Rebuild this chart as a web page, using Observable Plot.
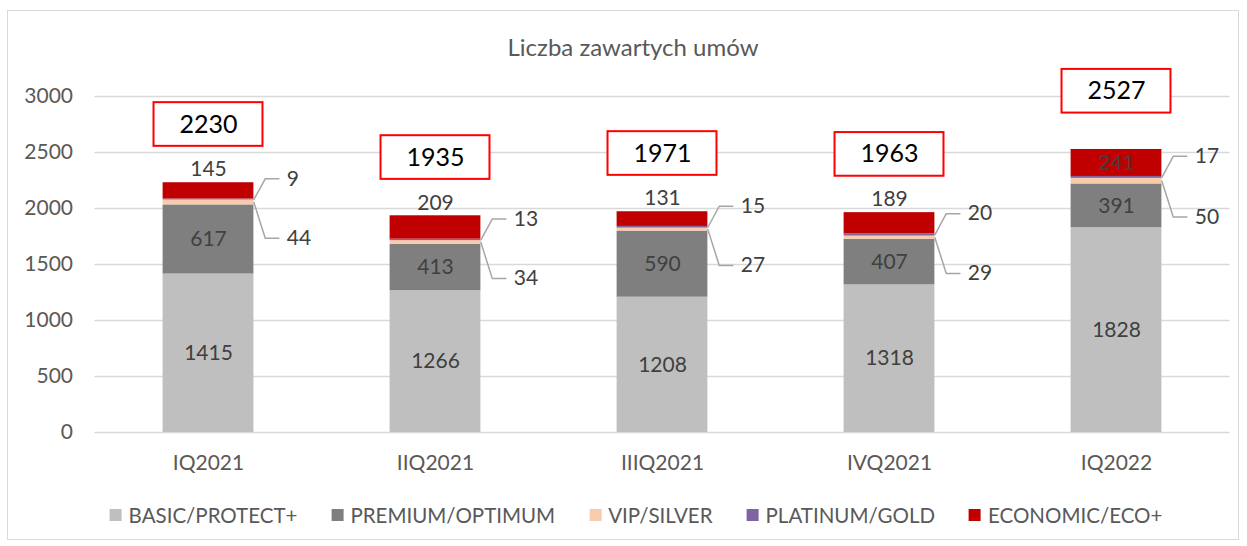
<!DOCTYPE html>
<html><head><meta charset="utf-8">
<script src="https://cdn.jsdelivr.net/npm/d3@7"></script>
<script src="https://cdn.jsdelivr.net/npm/@observablehq/plot@0.6"></script>
<style>
html,body{margin:0;padding:0;background:#fff;}
body{width:1247px;height:546px;position:relative;overflow:hidden;font-family:Lato,"Open Sans",sans-serif;}
#frame{position:absolute;left:7px;top:10px;width:1232px;height:530px;border:1px solid #d9d9d9;box-sizing:border-box;}
#title{position:absolute;top:32px;left:633px;transform:translateX(-50%);font-size:24px;color:#595959;white-space:nowrap;}
#chart{position:absolute;left:0;top:0;}
#legend{position:absolute;top:503px;left:636px;transform:translateX(-50%);display:flex;gap:34px;white-space:nowrap;font-size:20.5px;color:#595959;}
.item{display:flex;align-items:center;gap:7px;}
.sw{width:12px;height:12px;display:inline-block;}
</style></head>
<body>
<div id="frame"></div>
<div id="title">Liczba zawartych umów</div>
<div id="chart"></div>
<div id="legend"></div>
<script>
const quarters = ["IQ2021","IIQ2021","IIIQ2021","IVQ2021","IQ2022"];
const seriesNames = ["BASIC/PROTECT+","PREMIUM/OPTIMUM","VIP/SILVER","PLATINUM/GOLD","ECONOMIC/ECO+"];
const seriesColors = ["#bfbfbf","#7f7f7f","#f8cbad","#8064a2","#c00000"];
const basic = [1415,1266,1208,1318,1828];
const premium = [617,413,590,407,391];
const vip = [44,34,27,29,50];
const platinum = [9,13,15,20,17];
const economic = [145,209,131,189,241];
const totals = [2230,1935,1971,1963,2527];
const yTicks = [0,500,1000,1500,2000,2500,3000];

const seriesValues = [basic, premium, vip, platinum, economic];
const segs = [];
quarters.forEach((q,i)=>{
  let acc = 0;
  seriesNames.forEach((s,k)=>{
    const v = seriesValues[k][i];
    segs.push({i, q, series:s, k, value:v, y1:acc, y2:acc+v, total:totals[i]});
    acc += v;
  });
});
const seg = k => segs.filter(d=>d.k===k);

// leader lines for small segments (VIP, PLATINUM)
const leaders = [];
const leaderLabels = [];
quarters.forEach((q,i)=>{
  const p = segs.find(d=>d.i===i && d.k===3);
  const v = segs.find(d=>d.i===i && d.k===2);
  const py = p.y2 + 180, vy = v.y1 + v.value/2 - 320;
  leaders.push({key:"p"+i, x:i+0.2, y:(p.y1+p.y2)/2},{key:"p"+i, x:i+0.25, y:py},{key:"p"+i, x:i+0.31, y:py});
  leaders.push({key:"v"+i, x:i+0.2, y:(v.y1+v.y2)/2},{key:"v"+i, x:i+0.25, y:vy},{key:"v"+i, x:i+0.31, y:vy});
  leaderLabels.push({x:i+0.345, y:py, text:String(p.value)},{x:i+0.345, y:vy, text:String(v.value)});
});

const totalData = quarters.map((q,i)=>({i, total:totals[i]}));
const eco = seg(4);
const ecoInside = d => d.value >= 240;

const chart = Plot.plot({
  width:1247, height:490,
  marginTop:96, marginBottom:58, marginLeft:94.5, marginRight:17.5,
  style:{fontFamily:"Lato, 'Open Sans', sans-serif", fontSize:"21px", color:"#595959", background:"transparent", overflow:"visible"},
  x:{type:"linear", domain:[-0.5,4.5], label:null},
  y:{domain:[0,3000], label:null},
  color:{domain:seriesNames, range:seriesColors},
  marks:[
    Plot.gridY(yTicks, {stroke:"#d9d9d9", strokeOpacity:1, strokeWidth:1.5}),
    Plot.axisY(yTicks, {tickSize:0, tickPadding:22, tickFormat:d=>String(d), fontSize:21, fill:"#595959", label:null}),
    Plot.axisX(d3.range(quarters.length), {tickSize:0, tickPadding:23, tickFormat:i=>quarters[i], fontSize:21, fill:"#595959", label:null}),
    Plot.rect(segs, {x1:d=>d.i-0.2, x2:d=>d.i+0.2, y1:"y1", y2:"y2", fill:"series"}),
    Plot.text(segs.filter(d=>d.k<2), {x:"i", y:d=>(d.y1+d.y2)/2, text:d=>String(d.value), fill:"#404040", fontSize:21}),
    Plot.text(eco.filter(ecoInside), {x:"i", y:d=>(d.y1+d.y2)/2, text:d=>String(d.value), fill:"#404040", fontSize:21}),
    Plot.text(eco.filter(d=>!ecoInside(d)), {x:"i", y:"y2", dy:-13, text:d=>String(d.value), fill:"#404040", fontSize:21}),
    Plot.line(leaders, {x:"x", y:"y", z:"key", stroke:"#a6a6a6", strokeWidth:1.5}),
    Plot.text(leaderLabels, {x:"x", y:"y", text:"text", textAnchor:"start", fill:"#404040", fontSize:21}),
    Plot.rect(totalData, {x1:d=>d.i-0.24, x2:d=>d.i+0.24, y1:d=>d.total+325, y2:d=>d.total+715, fill:"white", stroke:"#ff0000", strokeWidth:2}),
    Plot.text(totalData, {x:"i", y:d=>d.total+520, text:d=>String(d.total), fill:"#000000", fontSize:25})
  ]
});
document.getElementById("chart").appendChild(chart);

const legend = document.getElementById("legend");
seriesNames.forEach((s,k)=>{
  const it = document.createElement("div"); it.className="item";
  const sw = document.createElement("span"); sw.className="sw"; sw.style.background=seriesColors[k];
  const t = document.createElement("span"); t.textContent=s;
  it.appendChild(sw); it.appendChild(t); legend.appendChild(it);
});
</script>
</body></html>
